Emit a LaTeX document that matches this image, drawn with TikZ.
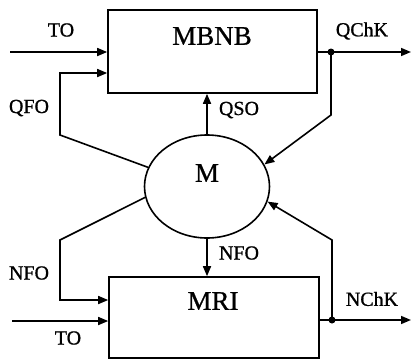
\documentclass[tikz,border=0pt]{standalone}
\usepackage{fontspec}
\setmainfont{Liberation Serif}[BoldFont=Liberation Serif, BoldFeatures={FakeBold=0.8}]
\usetikzlibrary{shapes.geometric,arrows.meta}
\begin{document}
\begin{tikzpicture}[x=1pt,y=-1pt,
  box/.style={draw,line width=1.6pt,inner sep=0pt},
  big/.style={font=\fontsize{27}{27}\selectfont\bfseries,inner sep=0pt},
  lab/.style={font=\fontsize{20}{20}\selectfont\bfseries,inner sep=0pt},
  wire/.style={line width=1.6pt},
  arr/.style={wire,-{Triangle[length=10pt,width=8pt]}},
  dot/.style={circle,fill,inner sep=0pt,minimum size=7pt}]
\useasboundingbox (0,0) rectangle (412,359);
% boxes
\node[box,minimum width=209pt,minimum height=83pt] (top) at (212.5,51.5) {};
\node[box,minimum width=210pt,minimum height=81pt] (bot) at (214,317.5) {};
\node[big] (toplab) at (212,36) {MBNB};
\node[big] (botlab) at (213,301) {MRI};
% ellipse
\node[draw,ellipse,line width=1.6pt,minimum width=125pt,minimum height=103pt,inner sep=0pt] (M) at (207,186.5) {};
\node[big] (Mlab) at (207,173) {M};
% coordinates
\coordinate (tin) at (10,52);
\coordinate (bin) at (12,321);
\coordinate (qdot) at (331,52);
\coordinate (qout) at (411,52);
\coordinate (ndot) at (332,320);
\coordinate (nout) at (411,320);
\coordinate (qfo1) at (60,135);
\coordinate (qfo2) at (60,73);
\coordinate (nfo1) at (60,240);
\coordinate (nfo2) at (60,300);
\coordinate (qb) at (331,115);
\coordinate (nb) at (332,240);
% connectors
\draw[arr] (tin) -- (top.west |- tin);
\draw[arr] (M.162) -- (qfo1) -- (qfo2) -- (top.west |- qfo2);
\draw[arr] (M.north) -- (M.north |- top.south);
\draw[wire] (top.east |- qdot) -- (qdot);
\draw[arr] (qdot) -- (qout);
\draw[arr] (qdot) -- (qb) -- (M.21);
\draw[arr] (M.190) -- (nfo1) -- (nfo2) -- (bot.west |- nfo2);
\draw[arr] (M.south) -- (M.south |- bot.north);
\draw[arr] (bin) -- (bot.west |- bin);
\draw[wire] (bot.east |- ndot) -- (ndot);
\draw[arr] (ndot) -- (nout);
\draw[arr] (ndot) -- (nb) -- (M.-14);
\node[dot] (qd) at (qdot) {};
\node[dot] (nd) at (ndot) {};
% labels
\node[lab] (l1) at (61,30) {TO};
\node[lab] (l2) at (29,108) {QFO};
\node[lab] (l3) at (362,31) {QChK};
\node[lab] (l4) at (239,110) {QSO};
\node[lab] (l5) at (29,273) {NFO};
\node[lab] (l6) at (68,338) {TO};
\node[lab] (l7) at (239,253) {NFO};
\node[lab] (l8) at (372,299) {NChK};
\end{tikzpicture}
\end{document}
